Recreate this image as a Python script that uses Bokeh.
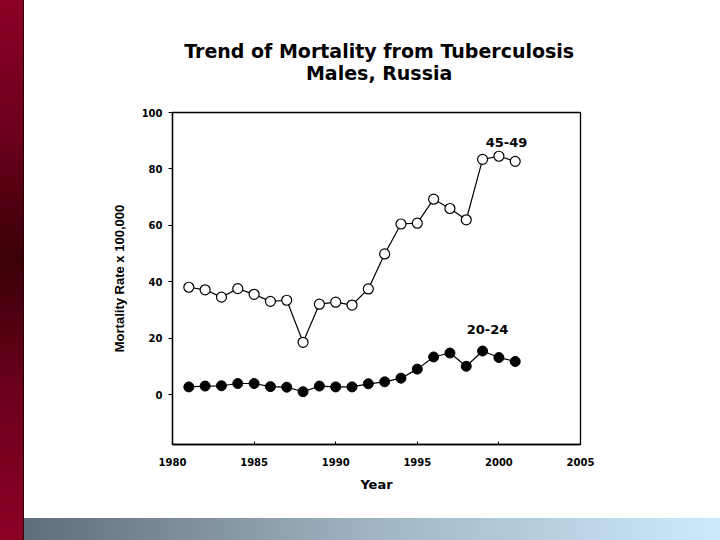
from bokeh.plotting import figure
from bokeh.models import Label, Div, FixedTicker, Range1d
from bokeh.layouts import row, column
from bokeh.embed import file_html
from bokeh.resources import INLINE

# ---- data ----
years = [1981, 1982, 1983, 1984, 1985, 1986, 1987, 1988, 1989, 1990, 1991,
         1992, 1993, 1994, 1995, 1996, 1997, 1998, 1999, 2000, 2001]
rate_45_49 = [38.1, 37.2, 34.6, 37.6, 35.6, 33.1, 33.5, 18.6, 32.1, 32.8, 31.8,
              37.5, 49.9, 60.5, 60.8, 69.3, 66.0, 62.0, 83.4, 84.5, 82.7]
rate_20_24 = [2.8, 3.1, 3.2, 4.0, 4.0, 2.9, 2.7, 1.1, 3.1, 2.8, 2.8,
              3.9, 4.6, 5.9, 9.1, 13.4, 14.8, 10.1, 15.5, 13.2, 11.8]
x_ticks = [1980, 1985, 1990, 1995, 2000, 2005]
y_ticks = [0, 20, 40, 60, 80, 100]
title_lines = ["Trend of Mortality from Tuberculosis", "Males, Russia"]
series_labels = ["45-49", "20-24"]

FONT = "DejaVu Sans"

# ---- title strip (its own small svg figure, pixel-like ranges) ----
tf = figure(width=696, height=90, output_backend="svg", toolbar_location=None,
            x_range=Range1d(0, 696), y_range=Range1d(90, 0),
            x_axis_type=None, y_axis_type=None,
            min_border=0, min_border_left=0, min_border_right=0,
            min_border_top=0, min_border_bottom=0)
tf.outline_line_color = None
tf.background_fill_color = "white"
tf.border_fill_color = "white"
tf.xgrid.visible = False
tf.ygrid.visible = False
for txt, ypos in zip(title_lines, [50.5, 72.0]):
    tf.add_layout(Label(x=352.5, y=ypos, text=txt, text_align="center",
                        text_baseline="middle", text_font=FONT,
                        text_font_style="bold", text_font_size="19px",
                        text_color="black"))

# ---- main chart ----
p = figure(width=696, height=428, output_backend="svg", toolbar_location=None,
           x_range=Range1d(1980, 2005), y_range=Range1d(-17.6, 100),
           min_border_left=148, min_border_right=140,
           min_border_top=22, min_border_bottom=74)
p.background_fill_color = "white"
p.border_fill_color = "white"
p.outline_line_color = "black"
p.outline_line_width = 1.3
p.xgrid.visible = False
p.ygrid.visible = False

# x axis
xa = p.xaxis[0]
xa.ticker = FixedTicker(ticks=x_ticks)
xa.major_tick_in = 3
xa.major_tick_out = 0
xa.minor_tick_line_color = None
xa.axis_line_color = "black"
xa.axis_line_width = 1.3
xa.major_tick_line_color = "black"
xa.major_label_standoff = 13
xa.major_label_text_font = FONT
xa.major_label_text_font_style = "bold"
xa.major_label_text_font_size = "10px"
xa.major_label_text_color = "black"
xa.axis_label = "Year"
xa.axis_label_text_font = FONT
xa.axis_label_text_font_style = "bold"
xa.axis_label_text_font_size = "13px"
xa.axis_label_text_color = "black"
xa.axis_label_standoff = 8

# y axis
ya = p.yaxis[0]
ya.ticker = FixedTicker(ticks=y_ticks)
ya.major_tick_in = 0
ya.major_tick_out = 4
ya.minor_tick_line_color = None
ya.axis_line_color = "black"
ya.axis_line_width = 1.3
ya.major_tick_line_color = "black"
ya.major_label_standoff = 6
ya.major_label_text_font = FONT
ya.major_label_text_font_style = "bold"
ya.major_label_text_font_size = "10px"
ya.major_label_text_color = "black"
ya.axis_label = "Mortality Rate x 100,000"
ya.axis_label_text_font = "Liberation Sans"
ya.axis_label_text_font_style = "bold"
ya.axis_label_text_font_size = "13px"
ya.axis_label_text_color = "black"
ya.axis_label_standoff = 12

# series
p.line(years, rate_45_49, line_color="black", line_width=1.2)
p.scatter(years, rate_45_49, marker="circle", size=10, fill_color="white",
          line_color="black", line_width=1.2)
p.line(years, rate_20_24, line_color="black", line_width=1.2)
p.scatter(years, rate_20_24, marker="circle", size=10, fill_color="black",
          line_color="black", line_width=1.0)

# series labels
p.add_layout(Label(x=2000.47, y=89.3, text=series_labels[0], text_align="center",
                   text_baseline="alphabetic", text_font=FONT, text_font_style="bold",
                   text_font_size="13px", text_color="black"))
p.add_layout(Label(x=1999.3, y=23.0, text=series_labels[1], text_align="center",
                   text_baseline="alphabetic", text_font=FONT, text_font_style="bold",
                   text_font_size="13px", text_color="black"))

# ---- slide decorations ----
red_bar = Div(text="", width=24, height=540, margin=0, styles={
    "background": "linear-gradient(to bottom, #8c0024 0%, #6a0019 25%, #3a0008 48%, #6a0019 72%, #8c0024 100%)",
    "border-right": "1px solid #2a0006", "box-sizing": "border-box"})
bottom_bar = Div(text="", width=696, height=22, margin=0, styles={
    "background": "linear-gradient(to right, #5f6e78 0%, #9fb5c3 50%, #cdeafc 100%)"})

layout = row(red_bar, column(tf, p, bottom_bar))

open("out.html", "w").write(file_html(layout, INLINE))
